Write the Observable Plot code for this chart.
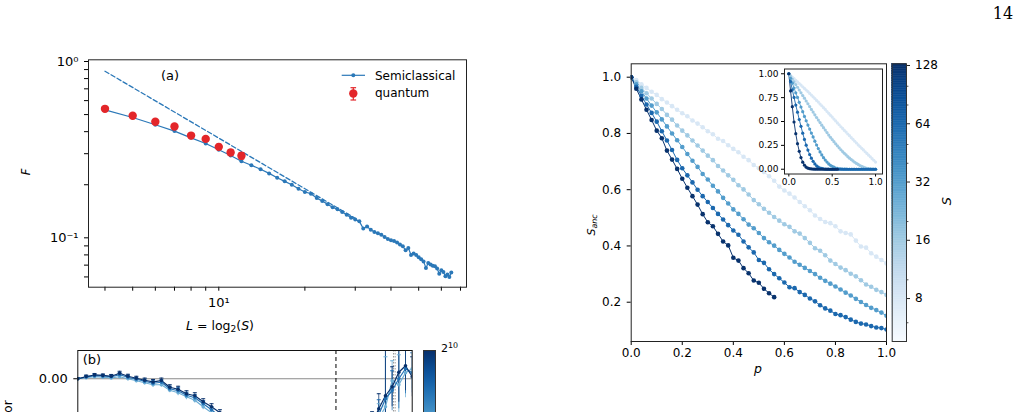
<!DOCTYPE html>
<html>
<head>
<meta charset="utf-8">
<script src="https://cdn.jsdelivr.net/npm/d3@7"></script>
<script src="https://cdn.jsdelivr.net/npm/@observablehq/plot@0.6"></script>
<style>
  html, body { margin: 0; padding: 0; background: #fff; }
  #page { position: relative; width: 1021px; height: 412px; overflow: hidden; background: #fff;
          font-family: "DejaVu Sans", sans-serif; color: #000; }
  .lbl { position: absolute; white-space: nowrap; line-height: 1; }
  .lbl sub { font-size: 0.72em; vertical-align: -0.25em; }
  .lbl sup { font-size: 0.72em; vertical-align: 0.45em; }
</style>
</head>
<body>
<div id="page"></div>
<script>
// ---------- Panel (a): fidelity F against L = log2(S) ----------
const L_semi = [4,5,6,7,8,9,10,11,12,13,14,15,16,17,18,19,20,21,22,23,24,25,26,27,28,29,30,31,32,33,
  34,35,36,37,38,39,40,41,42,43,44,45,46,47,48,49,50,51,52,53,54,55,56,57,58,59,60,61,62,63,64,65];
const F_semi = [0.532,0.481,0.438,0.403,0.369,0.343,0.316,0.293,0.272,0.258,
  0.245,0.232,0.219,0.209,0.200,0.190,0.182,0.178,0.168,0.162,
  0.155,0.149,0.145,0.140,0.135,0.130,0.127,0.124,0.113,0.116,
  0.111,0.108,0.106,0.104,0.101,0.0985,0.0970,0.0958,0.0940,0.0915,
  0.0895,0.0850,0.0875,0.0800,0.0815,0.0800,0.0775,0.0755,0.0735,0.0675,
  0.0720,0.0705,0.0695,0.0690,0.0670,0.0625,0.0655,0.0640,0.0605,0.0620,
  0.0600,0.0635];
const L_quant = [4,5,6,7,8,9,10,11,12];
const F_quant = [0.539,0.492,0.455,0.428,0.380,0.364,0.328,0.305,0.292];
const F_quantErr = [0.008,0.008,0.009,0.009,0.009,0.010,0.011,0.011,0.012];
// power-law fit shown dashed
const fitL = [4, 30];
const fitF = [0.881, 0.129];
const xTicksA = [4,5,6,7,8,9,10,20,30,40,50,60,70];
const yTicksA = [0.06,0.07,0.08,0.09,0.1,0.2,0.3,0.4,0.5,0.6,0.7,0.8,0.9,1];

// ---------- Right panel: S_anc against p ----------
const sizes = [8, 16, 32, 64, 128];
const pGrid = [0.00,0.02,0.04,0.06,0.08,0.10,0.12,0.14,0.16,0.18,0.20,0.22,0.24,0.26,0.28,0.30,0.32,0.34,
  0.36,0.38,0.40,0.42,0.44,0.46,0.48,0.50,0.52,0.54,0.56,0.58,0.60,0.62,0.64,0.66,0.68,0.70,0.72,0.74,
  0.76,0.78,0.80,0.82,0.84,0.86,0.88,0.90,0.92,0.94,0.96,0.98,1.00];
const S8main = [1.000,0.990,0.975,0.962,0.948,0.937,0.922,0.910,0.897,0.884,
  0.872,0.861,0.846,0.835,0.822,0.808,0.797,0.781,0.773,0.758,
  0.745,0.733,0.717,0.705,0.688,0.676,0.663,0.648,0.632,0.611,
  0.597,0.586,0.572,0.556,0.541,0.527,0.508,0.496,0.485,0.481,
  0.470,0.452,0.446,0.441,0.419,0.398,0.394,0.374,0.362,0.350,0.338];
const S16main = [1.000,0.982,0.962,0.943,0.924,0.905,0.887,0.866,0.849,0.828,
  0.810,0.793,0.775,0.757,0.739,0.721,0.705,0.684,0.668,0.651,
  0.635,0.616,0.601,0.583,0.563,0.548,0.532,0.518,0.503,0.490,
  0.477,0.468,0.452,0.444,0.428,0.411,0.392,0.383,0.367,0.348,
  0.336,0.323,0.314,0.301,0.292,0.278,0.263,0.255,0.244,0.236,0.226];
const S32main = [1.000,0.975,0.950,0.924,0.899,0.875,0.850,0.825,0.800,0.776,
  0.752,0.727,0.703,0.681,0.656,0.636,0.614,0.594,0.571,0.551,
  0.530,0.514,0.495,0.476,0.463,0.446,0.428,0.413,0.401,0.386,
  0.372,0.359,0.344,0.333,0.322,0.311,0.300,0.287,0.276,0.266,
  0.256,0.245,0.234,0.224,0.212,0.201,0.190,0.180,0.172,0.163,0.152];
const S64main = [1.000,0.966,0.934,0.903,0.873,0.842,0.808,0.775,0.741,0.706,
  0.676,0.651,0.626,0.600,0.577,0.556,0.535,0.514,0.494,0.474,
  0.455,0.440,0.416,0.395,0.377,0.350,0.340,0.317,0.300,0.285,
  0.270,0.253,0.250,0.236,0.226,0.213,0.203,0.189,0.178,0.170,
  0.158,0.154,0.147,0.138,0.130,0.124,0.121,0.115,0.110,0.108,0.103];
const S128main = [1.000,0.959,0.921,0.884,0.848,0.810,0.783,0.739,0.707,0.674,
  0.639,0.607,0.577,0.547,0.513,0.484,0.470,0.443,0.416,0.402,
  0.358,0.348,0.321,0.303,0.277,0.269,0.248,0.232,0.218];

// inset curves
const S8in = [1.000,0.984,0.966,0.950,0.932,0.916,0.898,0.882,0.864,0.847,
  0.830,0.813,0.794,0.777,0.758,0.741,0.721,0.703,0.683,0.665,
  0.645,0.626,0.605,0.586,0.565,0.546,0.525,0.506,0.485,0.466,
  0.445,0.427,0.407,0.389,0.369,0.351,0.331,0.313,0.293,0.275,
  0.255,0.238,0.219,0.202,0.183,0.166,0.147,0.130,0.111,0.094,0.075];
const S16in = [1.000,0.972,0.944,0.915,0.887,0.859,0.830,0.801,0.772,0.744,
  0.715,0.686,0.656,0.627,0.599,0.570,0.542,0.515,0.489,0.461,
  0.435,0.410,0.384,0.358,0.334,0.311,0.289,0.266,0.245,0.224,
  0.204,0.185,0.167,0.150,0.132,0.116,0.101,0.087,0.073,0.061,
  0.050,0.039,0.030,0.022,0.015,0.010,0.006,0.004,0.002,0.001,0.001];
const S32in = [1.000,0.952,0.902,0.851,0.800,0.752,0.701,0.652,0.603,0.553,
  0.508,0.463,0.421,0.379,0.338,0.294,0.254,0.216,0.181,0.150,
  0.121,0.096,0.075,0.056,0.041,0.030,0.021,0.013,0.008,0.005,
  0.003,0.002,0.001,0.001,0,0,0,0,0,0,
  0,0,0,0,0,0,0,0,0,0,0];
const S64in = [1.000,0.918,0.832,0.752,0.672,0.598,0.521,0.449,0.378,0.312,
  0.252,0.201,0.154,0.116,0.083,0.056,0.036,0.022,0.013,0.008,
  0.004,0.002,0.001,0.001,0,0,0,0,0,0,
  0,0,0,0,0,0,0,0,0,0,
  0,0,0,0,0,0,0,0,0,0,0];
const S128in = [1.000,0.820,0.655,0.495,0.372,0.268,0.188,0.122,0.074,0.042,
  0.022,0.011,0.006,0.003,0.002,0.001,0.001,0,0,0,
  0,0,0,0,0,0,0,0,0];
const cbTicks = [8, 16, 32, 64, 128];
const cbMinor = [6, 10, 20, 40, 50, 80, 100];

// ---------- Panel (b): error against position, for S up to 2^10 ----------
const bSizes = [64, 256, 1024];
const bLeftU = [0,2.5,5,7.5,10,12.5,15,17.5,20,22.5,25,27.5,30,32.5,35,37.5,40,42.5];
const bLeft = {
  64:   [0,0.0010,0.0020,0.0015,0.0008,0.0020,0.0000,-0.0020,-0.0040,-0.0060,-0.0060,-0.0115,-0.0140,-0.0180,-0.0215,-0.0280,-0.0340,-0.0420],
  256:  [0,0.0018,0.0030,0.0028,0.0020,0.0040,0.0015,-0.0005,-0.0025,-0.0045,-0.0035,-0.0100,-0.0120,-0.0165,-0.0190,-0.0250,-0.0310,-0.0380],
  1024: [0,0.0022,0.0038,0.0033,0.0025,0.0055,0.0025,0.0005,-0.0015,-0.0032,-0.0018,-0.0085,-0.0105,-0.0150,-0.0170,-0.0230,-0.0280,-0.0340]
};
const bLeftErr = [0.001,0.0015,0.0015,0.0015,0.0018,0.002,0.002,0.002,0.0022,0.0025,0.0025,0.0025,0.003,0.003,0.003,0.003,0.003,0.003];
const bRightU = [88,90,92,94,96,98,100];
const bRight = {
  64:   [-0.055,-0.040,-0.028,-0.002,-0.006,0.006,0.010],
  256:  [-0.050,-0.036,-0.020,-0.012,0.000,0.010,0.006],
  1024: [-0.045,-0.030,-0.017,-0.008,0.0065,0.013,0.002]
};
const bRightErr = [0.012,0.015,0.050,0.020,0.030,0.025,0.020];
const bDashU = 77.2;
const bDotU = [94.4, 94.9];

// ---------- shared styling ----------
const FONT = "DejaVu Sans";
const BLUE = "#2b78b8";
const RED = "#e3262a";
const page = document.getElementById("page");

function place(node, left, top) {
  const d = document.createElement("div");
  d.style.cssText = `position:absolute;left:${left}px;top:${top}px;`;
  d.appendChild(node);
  page.appendChild(d);
  return d;
}
function addLabel(html, cx, cy, {size = 12, italic = false, rotate = 0, family = FONT, anchor = "center"} = {}) {
  const d = document.createElement("div");
  d.className = "lbl";
  d.innerHTML = html;
  d.style.left = cx + "px";
  d.style.top = cy + "px";
  d.style.fontSize = size + "px";
  d.style.fontStyle = italic ? "italic" : "normal";
  d.style.fontFamily = family;
  const tx = anchor === "left" ? "0" : (anchor === "right" ? "-100%" : "-50%");
  d.style.transform = `translate(${tx},-50%)` + (rotate ? ` rotate(${rotate}deg)` : "");
  page.appendChild(d);
}
// short horizontal bar used as an error-bar cap
const cap = {draw(ctx, size) { const r = Math.sqrt(size / Math.PI); ctx.moveTo(-r, 0); ctx.lineTo(r, 0); }};

// ---------- Panel (a) ----------
const semiRows = L_semi.map((L, i) => ({L, F: F_semi[i]}));
const quantRows = L_quant.map((L, i) => ({L, F: F_quant[i], e: F_quantErr[i]}));
const fitRows = fitL.map((L, i) => ({L, F: fitF[i]}));

const plotA = Plot.plot({
  width: 480, height: 340,
  marginLeft: 88, marginRight: 14, marginTop: 59.3, marginBottom: 53.3,
  style: {fontFamily: FONT, fontSize: "13px", background: "transparent", color: "#000"},
  x: {type: "log", domain: [3.503, 73.47], ticks: xTicksA, tickFormat: d => d === 10 ? "10¹" : "",
      tickSize: 4, tickPadding: 7, label: null},
  y: {type: "log", domain: [0.05247, 1.0225], ticks: yTicksA,
      tickFormat: d => d === 1 ? "10⁰" : (d === 0.1 ? "10⁻¹" : ""), tickSize: 4, tickPadding: 6, label: null},
  marks: [
    Plot.line(fitRows, {x: "L", y: "F", stroke: BLUE, strokeWidth: 1.3, strokeDasharray: "4.5,2.5"}),
    Plot.line(semiRows, {x: "L", y: "F", stroke: BLUE, strokeWidth: 1.2}),
    Plot.dot(semiRows, {x: "L", y: "F", r: 2, fill: BLUE}),
    Plot.ruleX(quantRows, {x: "L", y1: d => d.F - d.e, y2: d => d.F + d.e, stroke: RED, strokeWidth: 1.2}),
    Plot.dot(quantRows, {x: "L", y: d => d.F - d.e, symbol: cap, r: 2.8, fill: "none", stroke: RED, strokeWidth: 1.2}),
    Plot.dot(quantRows, {x: "L", y: d => d.F + d.e, symbol: cap, r: 2.8, fill: "none", stroke: RED, strokeWidth: 1.2}),
    Plot.dot(quantRows, {x: "L", y: "F", r: 4.2, fill: RED}),
    Plot.frame({stroke: "#222", strokeWidth: 1})
  ]
});
place(plotA, 0, 0);

// legend of panel (a)
const legend = document.createElementNS("http://www.w3.org/2000/svg", "svg");
legend.setAttribute("width", 150);
legend.setAttribute("height", 42);
legend.innerHTML = `
  <line x1="6.7" y1="10.3" x2="30" y2="10.3" stroke="${BLUE}" stroke-width="1.2"/>
  <circle cx="18.3" cy="10.3" r="2" fill="${BLUE}"/>
  <text x="40" y="14.6" font-family="${FONT}" font-size="12">Semiclassical</text>
  <line x1="18.3" y1="22.7" x2="18.3" y2="35" stroke="${RED}" stroke-width="1.2"/>
  <line x1="15.5" y1="22.7" x2="21.1" y2="22.7" stroke="${RED}" stroke-width="1.2"/>
  <line x1="15.5" y1="35" x2="21.1" y2="35" stroke="${RED}" stroke-width="1.2"/>
  <circle cx="18.3" cy="28.5" r="4.2" fill="${RED}"/>
  <text x="40" y="32" font-family="${FONT}" font-size="12">quantum</text>`;
place(legend, 335, 65);

addLabel("(a)", 170, 75, {size: 13});
addLabel("F", 27, 172, {size: 11.5, italic: true, rotate: -90});
addLabel("<i>L</i> = log<sub>2</sub>(<i>S</i>)", 220, 327, {size: 12.5});

// ---------- Right panel ----------
const colorOpts = {type: "log", scheme: "blues", domain: [4.8, 130.6]};
function rowsFor(seriesList) {
  const rows = [];
  seriesList.forEach((vals, k) => vals.forEach((v, i) => {
    if (pGrid[i] !== undefined) rows.push({S: sizes[k], p: pGrid[i], v});
  }));
  return rows;
}
const mainRows = rowsFor([S8main, S16main, S32main, S64main, S128main]);
const insetRows = rowsFor([S8in, S16in, S32in, S64in, S128in]);

const plotMain = Plot.plot({
  width: 330, height: 380,
  marginLeft: 50.7, marginRight: 24, marginTop: 63.3, marginBottom: 39,
  style: {fontFamily: FONT, fontSize: "12px", background: "transparent", color: "#000"},
  x: {domain: [0, 1], ticks: [0, 0.2, 0.4, 0.6, 0.8, 1], tickFormat: d => d.toFixed(1), tickSize: 4, tickPadding: 3, label: null},
  y: {domain: [0.0603, 1.0476], ticks: [0.2, 0.4, 0.6, 0.8, 1], tickFormat: d => d.toFixed(1), tickSize: 4, tickPadding: 6, label: null},
  color: colorOpts,
  marks: [
    Plot.line(mainRows, {x: "p", y: "v", z: "S", stroke: "S", strokeWidth: 1, clip: true}),
    Plot.dot(mainRows, {x: "p", y: "v", fill: "S", r: 2.3, clip: true}),
    Plot.frame({stroke: "#222", strokeWidth: 1})
  ]
});
place(plotMain, 580, 0);

const plotInset = Plot.plot({
  width: 150, height: 135,
  marginLeft: 44, marginRight: 8, marginTop: 8.5, marginBottom: 21.5,
  style: {fontFamily: FONT, fontSize: "9px", background: "transparent", color: "#000"},
  x: {domain: [-0.05, 1.08], ticks: [0, 0.5, 1], tickFormat: d => d.toFixed(1), tickSize: 3, tickPadding: 2, label: null},
  y: {domain: [-0.05, 1.05], ticks: [0, 0.25, 0.5, 0.75, 1], tickFormat: d => d.toFixed(2), tickSize: 3, tickPadding: 3, label: null},
  color: colorOpts,
  marks: [
    Plot.frame({fill: "white", stroke: "none"}),
    Plot.line(insetRows, {x: "p", y: "v", z: "S", stroke: "S", strokeWidth: 0.9}),
    Plot.dot(insetRows, {x: "p", y: "v", fill: "S", r: 1.6}),
    Plot.frame({stroke: "#222", strokeWidth: 1})
  ]
});
place(plotInset, 740, 60);

// colour bar for S, with its own tick marks and labels
const cbLo = 4.8, cbHi = 130.6, cbN = 160;
const cbBands = d3.range(cbN).map(i => {
  const a = cbLo * Math.pow(cbHi / cbLo, i / cbN), b = cbLo * Math.pow(cbHi / cbLo, (i + 1) / cbN);
  return {a, b, m: Math.sqrt(a * b)};
});
const plotCb = Plot.plot({
  width: 80, height: 310,
  marginLeft: 6.7, marginRight: 59, marginTop: 13.3, marginBottom: 19,
  style: {fontFamily: FONT, fontSize: "12px", background: "transparent", color: "#000", overflow: "visible"},
  x: {domain: [0, 1], axis: null},
  y: {type: "log", domain: [cbLo, cbHi], axis: null},
  color: colorOpts,
  marks: [
    Plot.rect(cbBands, {x1: 0, x2: 1, y1: "a", y2: "b", fill: "m", stroke: "m", strokeWidth: 0.5}),
    Plot.ruleY(cbMinor, {x1: 1, x2: 1.17, stroke: "#222", strokeWidth: 0.8}),
    Plot.ruleY(cbTicks, {x1: 1, x2: 1.28, stroke: "#222", strokeWidth: 1}),
    Plot.text(cbTicks, {x: 1.6, y: d => d, text: d => String(d), textAnchor: "start", fill: "#000", fontSize: 12}),
    Plot.frame({stroke: "#333", strokeWidth: 1})
  ]
});
place(plotCb, 885, 50);

addLabel("S<sub>anc</sub>", 592, 225, {size: 11, italic: true, rotate: -90});
addLabel("p", 758, 369, {size: 12.5, italic: true});
addLabel("S", 946, 201, {size: 13, italic: true, rotate: -90});

// ---------- Panel (b) ----------
const bRows = [];
bSizes.forEach(S => {
  bLeftU.forEach((u, i) => bRows.push({S, seg: S + "L", u, v: bLeft[S][i], e: bLeftErr[i]}));
  bRightU.forEach((u, i) => bRows.push({S, seg: S + "R", u, v: bRight[S][i], e: bRightErr[i]}));
});
const plotB = Plot.plot({
  width: 460, height: 260,
  marginLeft: 77.3, marginRight: 48.3, marginTop: 20, marginBottom: 12,
  style: {fontFamily: FONT, fontSize: "13px", background: "transparent", color: "#000"},
  x: {domain: [0, 100], axis: null},
  y: {domain: [-0.2, 0.0283], ticks: [0], tickFormat: d => d.toFixed(2), tickSize: 4, tickPadding: 6, label: null},
  color: {type: "log", scheme: "blues", domain: [4, 1024]},
  marks: [
    Plot.ruleY([0], {stroke: "#8a8a8a", strokeWidth: 1}),
    Plot.ruleX([bDashU], {stroke: "#000", strokeWidth: 1, strokeDasharray: "4,3"}),
    Plot.ruleX(bDotU, {stroke: "#9a9a9a", strokeWidth: 1, strokeDasharray: "1.5,1.5"}),
    Plot.ruleX(bRows, {x: "u", y1: d => d.v - d.e, y2: d => d.v + d.e, stroke: "S", strokeWidth: 1, strokeOpacity: 0.75, clip: true}),
    Plot.dot(bRows, {x: "u", y: d => d.v + d.e, symbol: cap, r: 2, fill: "none", stroke: "S", strokeWidth: 1, clip: true}),
    Plot.line(bRows, {x: "u", y: "v", z: "seg", stroke: "S", strokeWidth: 1.2, clip: true}),
    Plot.dot(bRows, {x: "u", y: "v", fill: "S", r: 1.8, clip: true}),
    Plot.frame({stroke: "#111", strokeWidth: 1})
  ]
});
place(plotB, 0, 330);

// colour bar of panel (b)
const cbB = document.createElement("div");
const stops = d3.range(0, 1.0001, 0.1).map(t => `${d3.interpolateBlues(1 - t * 0.6)} ${t * 100}%`).join(",");
cbB.style.cssText = `position:absolute;left:422.7px;top:350px;width:13px;height:100px;border:1px solid #333;box-sizing:border-box;background:linear-gradient(to bottom, ${stops});`;
page.appendChild(cbB);
addLabel("2<sup>10</sup>", 441, 348, {size: 11, anchor: "left"});

addLabel("(b)", 92, 359, {size: 13});
addLabel("Error", 8, 415, {size: 12, rotate: -90});

// page number
addLabel("14", 1003, 14, {size: 16, family: "DejaVu Serif"});
</script>
</body>
</html>
